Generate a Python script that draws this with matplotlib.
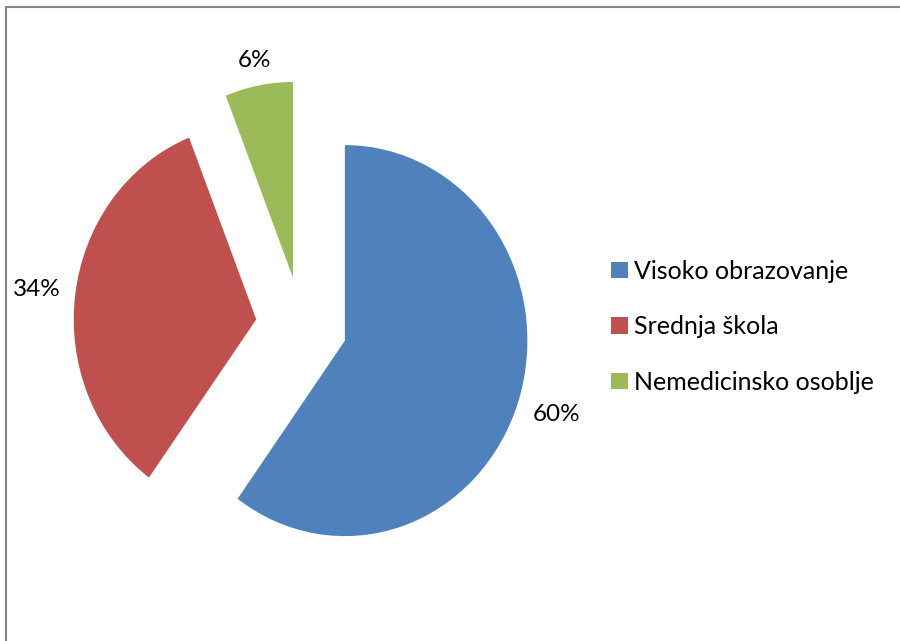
import matplotlib
matplotlib.use("Agg")
import matplotlib.pyplot as plt
from matplotlib.patches import Rectangle
import numpy as np

# data
labels = ["Visoko obrazovanje", "Srednja škola", "Nemedicinsko osoblje"]
values = [60, 34, 6]
colors = ["#4F81BD", "#C0504D", "#9BBB59"]
label_dist = [1.22, 1.21, 1.13]

plt.rcParams['font.family'] = ['Lato', 'DejaVu Sans']

W, H = 900, 641
fig = plt.figure(figsize=(W / 100, H / 100), dpi=100)
ax = fig.add_axes([0, 0, 1, 1])

# pie center / radii in pixels (ellipse like the original)
cx, cy = 301.5, 325.5
rx, ry = 182.5, 195.5

wedges, _ = ax.pie(values, colors=colors, startangle=90, counterclock=False,
                   explode=[0.25] * 3, radius=1,
                   wedgeprops=dict(linewidth=0))
ax.set_xlim(-cx / rx, (W - cx) / rx)
ax.set_ylim(-(H - cy) / ry, cy / ry)
ax.set_aspect("auto")
ax.axis("off")

for w, v, d in zip(wedges, values, label_dist):
    mid = np.deg2rad((w.theta1 + w.theta2) / 2)
    x0, y0 = w.center
    ax.text(x0 + d * np.cos(mid), y0 + d * np.sin(mid), f"{v}%",
            ha="center", va="center", fontsize=17.5, color="black")

leg = fig.legend(wedges, labels, loc="center left",
                 bbox_to_anchor=(611 / W, 1 - 327 / H), frameon=False,
                 fontsize=18, handlelength=0.68, handleheight=0.64,
                 handletextpad=0.24, labelspacing=1.3, borderpad=0,
                 borderaxespad=0)

# chart border (cut off at right and bottom)
fig.patches.append(Rectangle((6 / W, -0.1), 1.2, 1 - 7 / H + 0.1,
                             transform=fig.transFigure, fill=False,
                             edgecolor="#868686", linewidth=1.5))

fig.savefig("out.png", dpi=100)
